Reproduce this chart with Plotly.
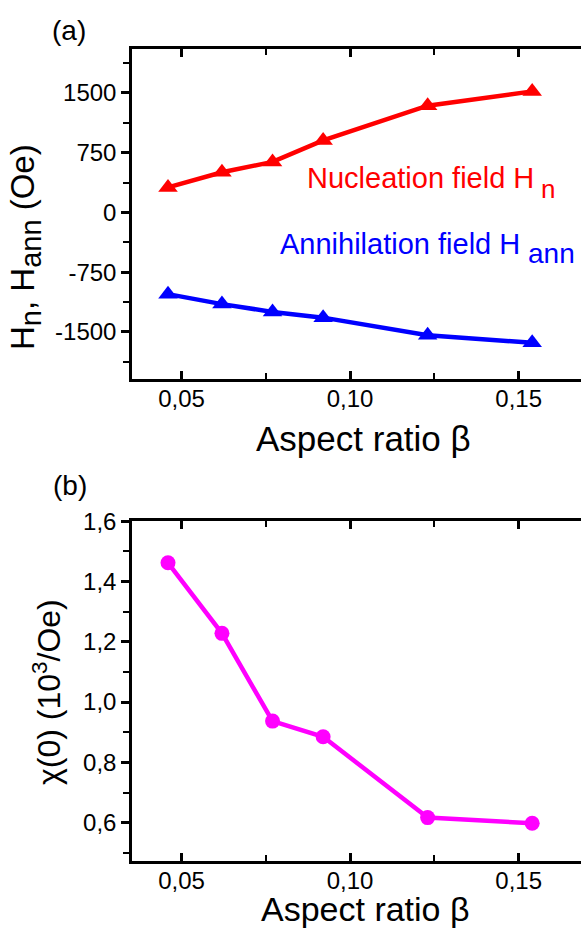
import plotly.graph_objects as go

# ---------------- data ----------------
beta = [0.046, 0.062, 0.077, 0.092, 0.123, 0.154]
H_nucleation = [315, 505, 635, 905, 1340, 1520]
H_annihilation = [-1025, -1150, -1248, -1320, -1542, -1635]
chi0 = [1.462, 1.228, 0.937, 0.885, 0.617, 0.598]

top_y_tickvals = [1500, 750, 0, -750, -1500]
top_y_ticktext = ["1500", "750", "0", "-750", "-1500"]
bottom_y_tickvals = [0.6, 0.8, 1.0, 1.2, 1.4, 1.6]
bottom_y_ticktext = ["0,6", "0,8", "1,0", "1,2", "1,4", "1,6"]
x_tickvals = [0.05, 0.10, 0.15]
x_ticktext = ["0,05", "0,10", "0,15"]

W, H = 581, 928
FONT = "Liberation Sans, Arial, sans-serif"


def fx(p):
    return p / W


def fy(p):
    return 1 - p / H


fig = go.Figure()

RED = "#ff0000"
BLUE = "#0000ff"
MAG = "#ff00ff"

fig.add_trace(go.Scatter(x=beta, y=H_nucleation, mode="lines+markers",
                         line=dict(color=RED, width=4.5),
                         marker=dict(symbol="triangle-up", size=17, color=RED),
                         xaxis="x", yaxis="y", showlegend=False))
fig.add_trace(go.Scatter(x=beta, y=H_annihilation, mode="lines+markers",
                         line=dict(color=BLUE, width=4.5),
                         marker=dict(symbol="triangle-up", size=17, color=BLUE),
                         xaxis="x", yaxis="y", showlegend=False))
fig.add_trace(go.Scatter(x=beta, y=chi0, mode="lines+markers",
                         line=dict(color=MAG, width=4.5),
                         marker=dict(symbol="circle", size=15, color=MAG),
                         xaxis="x2", yaxis="y2", showlegend=False))

xr = [0.03532, 0.16848]
common_x = dict(range=xr, domain=[fx(132), 1.0], showline=True, linecolor="black",
                linewidth=2.5, mirror="ticks", ticks="inside", ticklen=8, tickwidth=2.5,
                tickcolor="black", tickvals=x_tickvals, ticktext=x_ticktext,
                tickfont=dict(family=FONT, size=24, color="black"),
                ticklabelstandoff=-4,
                showgrid=False, zeroline=False, automargin=False,
                minor=dict(tickmode="linear", tick0=0, dtick=0.025, ticks="inside",
                           ticklen=6, tickwidth=2, tickcolor="black", showgrid=False))
common_y = dict(showline=True, linecolor="black", linewidth=2.5, mirror=False,
                ticks="outside", ticklen=8, tickwidth=2.5, tickcolor="black",
                tickfont=dict(family=FONT, size=24, color="black"),
                showgrid=False, zeroline=False, automargin=False)

fig.update_layout(
    width=W, height=H,
    margin=dict(l=0, r=0, t=0, b=0),
    paper_bgcolor="white", plot_bgcolor="white",
    separators=",.",
    xaxis=dict(anchor="y", **common_x),
    xaxis2=dict(anchor="y2", **common_x),
    yaxis=dict(anchor="x", domain=[fy(379), fy(49)], range=[-2090, 2052],
               tickvals=top_y_tickvals, ticktext=top_y_ticktext,
               minor=dict(tickmode="linear", tick0=0, dtick=375, ticks="outside",
                          ticklen=6, tickwidth=2, tickcolor="black", showgrid=False),
               **common_y),
    yaxis2=dict(anchor="x2", domain=[fy(861), fy(521)], range=[0.473, 1.6005],
                tickvals=bottom_y_tickvals, ticktext=bottom_y_ticktext,
                minor=dict(tickmode="linear", tick0=0, dtick=0.1, ticks="outside",
                           ticklen=6, tickwidth=2, tickcolor="black", showgrid=False),
                **common_y),
)


def note(text, x, y, size, color="black", angle=0, xanchor="center"):
    return dict(text=text, x=fx(x), y=fy(y), xref="paper", yref="paper",
                xanchor=xanchor, yanchor="middle", textangle=angle, showarrow=False,
                font=dict(family=FONT, size=size, color=color))


SUB = "<sub><span style='font-size:{s}px'>{t}</span></sub>"

ann = [
    note("(a)", 69, 30, 28),
    note("(b)", 70, 486, 28),
    note("Aspect ratio β", 363, 438, 35),
    note("Aspect ratio β", 365, 909, 34),
    note("H" + SUB.format(s=29, t="n") + ", H" + SUB.format(s=29, t="ann") + " (Oe)",
         25, 247, 33, angle=-90),
    note("χ(0) (10<sup>3</sup>/Oe)", 47, 692, 32, angle=-90),
    # annotation labels (main text and lowered subscripts)
    note("Nucleation field H", 305, 178, 29, color=RED, xanchor="left"),
    note("n", 539, 189, 26, color=RED, xanchor="left"),
    note("Annihilation field H", 278, 244, 29, color=BLUE, xanchor="left"),
    note("ann", 526, 253, 28, color=BLUE, xanchor="left"),
]
fig.update_layout(annotations=ann)

fig.write_html("out.html")
